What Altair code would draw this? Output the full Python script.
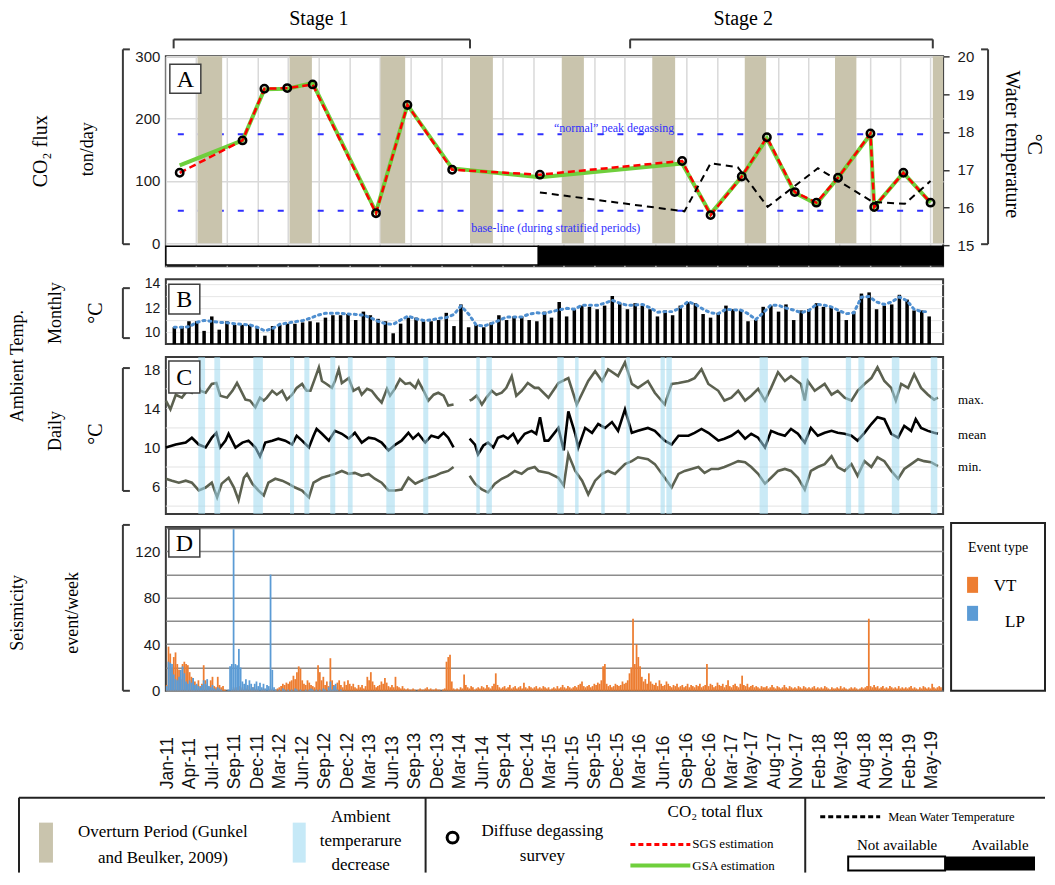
import altair as alt
import pandas as pd
from datetime import datetime

# ---------------- data ----------------
SURVEY_DATES = ["2011-02-25", "2011-11-02", "2012-01-28", "2012-04-28", "2012-08-07",
                "2013-04-16", "2013-08-19", "2014-02-13", "2015-01-28", "2016-08-16",
                "2016-12-07", "2017-04-10", "2017-07-19", "2017-11-07", "2018-02-01",
                "2018-04-28", "2018-09-04", "2018-09-19", "2019-01-13", "2019-05-01"]
SGS = [113, 165, 248, 249, 255, 48, 222, 118, 110, 132, 45, 107, 170, 82, 65, 105, 176, 58, 113, 65]
GSA = [125, 165, 247, 248, 257, 50, 222, 120, 106, 128, 47, 107, 168, 81, 63, 105, 175, 58, 113, 65]

WT_DATES = ["2015-01-28", "2016-08-25", "2016-12-07", "2017-03-25", "2017-07-22",
            "2018-02-07", "2018-09-13", "2019-01-19", "2019-05-01"]
WT = [16.40, 15.90, 17.17, 17.07, 16.02, 17.04, 16.15, 16.10, 16.70]

OVERTURN_START = ["2011-05-07", "2012-05-07", "2013-05-04", "2014-04-25", "2015-04-25",
                  "2016-04-19", "2017-04-22", "2018-04-16", "2019-05-10"]
OVERTURN_END = ["2011-08-13", "2012-08-04", "2013-08-10", "2014-07-25", "2015-07-22",
                "2016-07-19", "2017-07-16", "2018-07-10", "2019-06-20"]

COOL_START = ["2011-05-10", "2011-07-13", "2011-12-15", "2012-05-09", "2012-07-05", "2012-10-16",
              "2012-12-25", "2013-05-27", "2013-10-21", "2014-05-20", "2014-06-29", "2015-04-07",
              "2015-06-17", "2015-09-29", "2016-01-07", "2016-05-22", "2016-06-14", "2017-06-20",
              "2017-12-03", "2018-05-29", "2018-07-18", "2018-11-28", "2019-05-02"]
COOL_END = ["2011-06-06", "2011-08-05", "2012-01-22", "2012-05-25", "2012-07-25", "2012-11-05",
            "2013-01-13", "2013-06-30", "2013-11-10", "2014-06-03", "2014-07-21", "2015-05-03",
            "2015-07-01", "2015-10-13", "2016-01-21", "2016-06-08", "2016-07-06", "2017-07-23",
            "2018-01-01", "2018-06-19", "2018-08-11", "2018-12-28", "2019-05-28"]

STAGE_NAMES = ["Stage 1", "Stage 2"]
STAGE_START = ["2011-02-01", "2016-01-22"]
STAGE_END = ["2014-04-25", "2019-05-10"]
STAGE_LABEL_AT = ["2012-09-01", "2017-04-16"]

AVAIL_START = ["2011-01-01", "2015-01-22"]
AVAIL_END = ["2015-01-22", "2019-06-20"]
AVAIL_FILL = ["white", "black"]

REF_LEVELS = [175, 52]
REF_TEXT = ["\u201cnormal\u201d peak degassing", "base-line (during stratified periods)"]
REF_TEXT_AT = ["2015-11-19", "2015-04-01"]
REF_TEXT_V = [185, 25]

# monthly ambient temperature (Jan 2011 ... May 2019)
MONTHLY_T = [10.4, 10.5, 10.9, 10.9, 10.1, 11.3, 10.2, 10.9, 10.6, 10.6,
             10.6, 10.4, 9.7, 10.5, 10.6, 10.7, 10.7, 10.8, 10.9, 10.8,
             11.2, 11.4, 11.4, 11.5, 11.0, 11.7, 11.4, 11.1, 10.9, 9.9,
             10.7, 11.2, 11.2, 10.9, 10.9, 11.0, 11.6, 10.5, 12.3, 10.4,
             10.6, 10.4, 10.8, 11.4, 11.0, 11.3, 11.3, 11.0,
             10.9, 11.7, 11.2, 12.5, 11.3, 11.9, 12.2, 12.1, 11.9, 12.2,
             13.0, 12.4, 11.9, 12.4, 12.2, 11.9, 11.3, 11.8, 11.4, 12.2,
             12.5, 12.4, 11.5, 11.2, 11.6, 12.2, 11.9, 11.8, 10.9, 11.0,
             12.1, 12.2, 11.7, 12.3, 11.0, 11.8, 11.9, 12.4, 12.1, 12.1,
             11.7, 11.0, 11.7, 13.2, 13.3, 11.9, 12.2, 12.3, 13.1, 12.7,
             11.8, 11.8, 11.3]
MONTHLY_AVG = [10.4, 10.4, 10.45, 10.8, 10.97, 10.9, 10.8, 10.78, 10.7, 10.64,
               10.6, 10.4, 10.1, 10.3, 10.65, 10.75, 10.86, 10.95, 11.15, 11.4,
               11.56, 11.56, 11.56, 11.5, 11.47, 11.4, 11.2, 10.9, 10.7, 10.64,
               11.0, 11.33, 11.1, 10.97, 11.0, 11.15, 11.2, 11.47, 12.17, 11.5,
               10.6, 10.5, 10.7, 10.97, 11.25, 11.25, 11.25, 11.5, 11.6, 11.55,
               11.7, 11.85, 11.97, 11.9, 12.22, 12.22, 12.22, 12.4, 12.64, 12.4,
               12.22, 12.25, 12.3, 12.03, 11.65, 11.7, 11.7, 12.03, 12.53, 12.3,
               11.9, 11.6, 11.53, 11.9, 11.85, 11.83, 11.53, 11.05, 11.6, 12.25,
               12.22, 12.0, 11.83, 11.61, 11.8, 12.3, 12.25, 12.1, 11.8, 11.53,
               11.6, 12.9, 12.95, 12.5, 12.3, 12.5, 12.92, 12.6, 11.9, 11.7,
               11.7]

# daily ambient temperature, read at months since Jan 2011
MAX_T = [0.0, 0.6, 1.3, 2.1, 2.8, 3.4, 4.1, 4.5, 5.2, 6.0, 6.6, 7.1, 8.0, 8.7, 9.3, 9.7, 10.4, 11.0, 11.7, 12.3,
         12.8, 13.2, 13.9, 14.5, 15.2, 15.8, 16.5, 17.1, 17.8, 18.4, 18.9, 19.5, 20.0, 20.4, 21.0, 21.7, 22.1, 22.6, 23.0, 23.9,
         24.5, 25.2, 25.6, 26.3, 26.9, 27.6, 28.2, 28.9, 29.3, 30.0, 30.6, 31.3, 31.9, 32.6, 33.0, 33.7, 34.3, 35.0, 35.6, 36.3,
         36.9, 37.6,
         39.7, 40.0, 40.6, 41.3, 41.9, 42.6, 43.2, 43.9, 44.5, 45.2, 45.8, 46.5, 47.3, 48.2,
         48.7, 50.0, 51.3, 52.6, 53.7, 55.2, 56.1, 57.0, 57.8, 59.1, 60.0, 60.9, 61.7, 63.0, 63.9, 65.2, 66.1, 67.0, 68.3, 69.1,
         70.0, 70.9, 72.2, 73.0, 73.9, 74.8, 75.7, 76.5, 77.4, 78.3, 79.1, 80.0, 80.9, 81.7, 83.0, 83.5, 83.9, 84.8, 86.1, 87.0,
         87.8, 88.7, 89.6, 90.4, 91.3, 92.2, 93.0, 93.9, 94.8, 95.4, 96.1, 97.0, 97.8, 98.7, 99.6, 100.4, 100.9]
MAX_V = [14.8, 13.9, 15.4, 15.1, 15.8, 15.6, 16.6, 15.8, 15.6, 16.5, 16.6, 15.3, 15.1, 15.8, 16.6, 16.0, 14.9, 14.8, 14.1, 15.1,
         14.8, 15.1, 15.8, 15.4, 15.8, 14.9, 15.4, 16.1, 16.5, 15.8, 15.8, 17.1, 18.2, 16.8, 16.5, 16.1, 16.8, 18.0, 16.6, 17.1,
         15.8, 16.1, 15.4, 16.0, 15.8, 15.1, 14.6, 16.0, 15.3, 16.1, 17.0, 16.5, 16.6, 16.1, 16.8, 15.8, 14.8, 15.4, 15.6, 15.3,
         14.3, 14.4,
         14.8, 14.9, 15.3, 14.4, 15.1, 15.8, 15.4, 15.6, 16.1, 17.3, 15.3, 15.8, 16.6, 16.1,
         16.1, 15.1, 16.6, 17.1, 14.4, 16.8, 17.8, 16.8, 18.0, 17.3, 18.7, 16.5, 16.1, 16.8, 15.6, 14.4, 16.5, 16.6, 16.8, 17.1,
         18.0, 16.5, 15.8, 14.8, 15.1, 15.8, 14.8, 15.3, 16.0, 14.8, 16.1, 17.7, 16.8, 17.3, 16.5, 14.8, 16.8, 15.8, 16.5, 15.4,
         15.8, 15.1, 14.8, 15.8, 16.5, 17.1, 18.2, 16.8, 16.1, 14.8, 16.5, 16.1, 17.5, 16.1, 15.4, 14.9, 15.1]
MEAN_T = [0.0, 1.3, 2.6, 3.4, 4.3, 5.2, 6.0, 6.6, 7.1, 7.8, 8.2, 9.1, 10.0, 10.8, 11.7, 12.3, 13.0, 13.9, 14.7, 15.6,
          16.5, 17.1, 17.8, 18.7, 19.3, 19.7, 20.4, 21.3, 22.1, 23.0, 23.9, 24.7, 25.6, 26.5, 27.3, 28.2, 29.1, 30.0, 30.8, 31.7,
          32.3, 33.0, 33.9, 34.7, 35.6, 36.3, 36.9, 37.6,
          39.7, 40.4, 40.8, 41.5, 42.1, 42.8, 43.4, 44.1, 44.7, 45.4, 46.0, 46.9, 47.8, 48.4, 48.9, 49.5,
          50.0, 51.3, 52.0, 52.6, 53.5, 53.9, 54.8, 55.7, 56.5, 57.4, 58.3, 59.1, 60.0, 60.9, 61.7, 63.0, 63.9, 65.2, 66.1, 67.0,
          68.3, 69.1, 70.0, 70.9, 72.2, 73.0, 73.9, 74.8, 75.7, 76.5, 77.4, 78.3, 79.1, 80.0, 80.9, 81.7, 82.6, 83.5, 84.3, 85.2,
          86.1, 87.0, 87.8, 88.7, 89.6, 90.4, 91.3, 92.2, 93.0, 93.9, 94.8, 95.7, 96.5, 97.4, 98.0, 98.7, 99.6, 100.4, 100.9]
MEAN_V = [10.0, 10.3, 10.5, 11.0, 10.3, 10.0, 11.0, 11.5, 10.0, 10.7, 11.4, 10.0, 10.5, 10.7, 10.0, 9.1, 10.5, 10.7, 10.9, 10.7,
          10.3, 11.2, 10.7, 10.0, 11.2, 11.9, 11.4, 10.7, 11.7, 11.4, 10.9, 11.5, 10.5, 11.0, 10.9, 10.5, 9.7, 10.3, 10.7, 11.5,
          10.9, 11.4, 10.5, 11.2, 11.0, 11.5, 11.0, 10.0,
          10.9, 10.3, 9.3, 10.2, 10.5, 10.0, 11.0, 11.2, 10.9, 11.4, 10.5, 11.4, 11.7, 11.4, 13.1, 10.7,
          10.7, 12.0, 9.7, 13.7, 11.4, 10.0, 12.0, 11.5, 12.4, 12.0, 12.6, 11.7, 13.9, 11.5, 11.7, 12.0, 11.7, 10.7, 10.3, 11.2,
          11.2, 11.5, 11.9, 11.5, 10.7, 10.9, 11.2, 11.7, 10.9, 11.4, 11.0, 10.0, 11.7, 11.4, 11.2, 11.9, 11.4, 10.5, 12.0, 11.2,
          11.5, 11.7, 11.5, 11.4, 11.2, 10.7, 11.5, 12.4, 13.1, 12.9, 11.4, 11.0, 12.2, 11.7, 12.9, 12.0, 11.7, 11.5, 11.4]
MIN_T = [0.0, 0.8, 1.7, 2.6, 3.4, 4.3, 5.2, 6.0, 6.7, 7.3, 8.2, 8.9, 9.5, 10.2, 10.6, 11.3, 12.1, 12.8, 13.4, 14.3,
         15.2, 16.0, 16.9, 17.8, 18.7, 19.3, 20.4, 21.3, 22.1, 23.0, 23.9, 24.7, 25.6, 26.5, 27.3, 28.2, 29.1, 30.0, 30.8, 31.7,
         32.6, 33.4, 34.3, 35.2, 36.0, 36.9, 37.6,
         39.7, 40.4, 41.3, 42.1, 43.0, 43.9, 44.7, 45.6, 46.5, 47.3, 48.2,
         48.7, 50.0, 51.3, 52.0, 52.6, 53.5, 54.4, 55.2, 56.1, 57.0, 57.8, 58.7, 60.0, 60.9, 61.7, 63.0, 63.9, 65.2, 66.1, 67.0,
         67.8, 68.7, 69.6, 70.4, 71.3, 72.2, 73.0, 73.9, 74.8, 75.7, 76.5, 77.4, 78.3, 79.1, 80.0, 80.9, 81.7, 82.6, 83.5, 84.3,
         85.2, 86.1, 87.0, 87.8, 88.7, 89.6, 90.4, 91.3, 92.2, 93.0, 93.9, 94.8, 95.7, 96.5, 97.4, 98.3, 99.1, 100.0, 100.9]
MIN_V = [6.8, 6.6, 6.4, 6.6, 6.4, 5.6, 5.9, 6.4, 4.9, 6.3, 6.9, 5.9, 4.6, 6.9, 7.3, 6.3, 5.6, 5.1, 6.4, 6.8,
         6.6, 6.3, 5.9, 5.6, 4.9, 6.4, 6.9, 7.1, 7.3, 7.6, 7.3, 7.4, 7.1, 7.3, 6.8, 6.4, 5.6, 5.6, 5.7, 6.9,
         6.3, 6.6, 6.9, 7.1, 7.4, 7.6, 8.0,
         7.1, 6.3, 5.7, 5.4, 6.3, 6.8, 7.1, 7.6, 7.3, 7.8, 8.0,
         7.6, 7.4, 6.9, 6.1, 9.3, 7.6, 6.6, 5.2, 6.6, 7.3, 7.6, 7.3, 8.3, 8.6, 9.0, 8.8, 8.3, 6.9, 5.9, 7.3,
         7.6, 7.8, 8.0, 7.4, 7.8, 7.8, 8.0, 8.3, 8.6, 8.5, 8.0, 7.3, 6.3, 6.9, 7.6, 7.8, 7.6, 6.9, 5.7, 7.6,
         8.0, 8.3, 9.1, 8.0, 7.6, 8.3, 7.1, 8.6, 8.0, 9.0, 8.6, 7.6, 6.8, 7.8, 8.3, 8.8, 8.6, 8.5, 8.1]
DATA_GAP_AFTER = 38.5  # months: no daily record between Mar and May 2014

# weekly seismicity (events/week), from the week of 1 Jan 2011
VT = [5, 38, 32, 20, 29, 33, 23, 18, 10, 23, 25, 23, 22, 16, 12, 11, 8, 5, 9, 4,
      6, 22, 9, 5, 3, 9, 12, 4, 3, 12, 5, 3, 4, 1, 0, 0, 0, 1, 3, 2,
      3, 4, 2, 3, 1, 2, 4, 1, 2, 3, 1, 2, 1, 0, 1, 2, 1, 0, 1, 2,
      1, 0, 1, 2, 3, 4, 6, 5, 7, 6, 8, 9, 13, 10, 16, 21, 19, 9, 6, 5,
      9, 7, 5, 4, 3, 8, 22, 16, 9, 12, 5, 8, 4, 28, 9, 5, 3, 7, 9, 5,
      3, 8, 5, 9, 6, 4, 6, 3, 2, 5, 3, 5, 2, 4, 12, 9, 16, 8, 5, 3,
      4, 5, 8, 6, 11, 7, 4, 3, 5, 3, 12, 4, 3, 2, 4, 2, 1, 2, 1, 1,
      2, 1, 0, 1, 2, 1, 1, 2, 3, 1, 2, 1, 1, 2, 1, 1, 0, 1, 2, 25,
      29, 31, 8, 2, 1, 2, 1, 3, 2, 14, 5, 3, 2, 4, 3, 1, 2, 3, 2, 4,
      3, 2, 5, 3, 2, 4, 6, 15, 5, 3, 2, 3, 4, 2, 3, 5, 2, 3, 4, 2,
      3, 4, 2, 7, 3, 2, 4, 3, 2, 3, 4, 2, 3, 2, 4, 3, 2, 3, 1, 2,
      3, 2, 4, 2, 3, 5, 3, 2, 4, 3, 2, 3, 4, 3, 5, 6, 8, 4, 3, 4,
      5, 3, 4, 6, 5, 7, 6, 9, 21, 23, 6, 4, 5, 3, 4, 6, 5, 4, 5, 8,
      6, 7, 9, 15, 20, 62, 23, 40, 29, 21, 12, 8, 10, 6, 15, 8, 6, 5, 7, 4,
      9, 6, 4, 5, 8, 6, 4, 3, 5, 4, 6, 3, 4, 5, 3, 4, 6, 3, 5, 4,
      3, 5, 4, 6, 3, 4, 5, 23, 4, 6, 5, 3, 4, 7, 5, 4, 6, 3, 5, 9,
      4, 3, 5, 6, 4, 3, 6, 13, 5, 4, 6, 3, 4, 5, 3, 4, 3, 2, 4, 3,
      3, 4, 2, 3, 5, 3, 2, 4, 3, 2, 3, 5, 3, 2, 4, 3, 2, 3, 2, 4,
      3, 2, 4, 3, 2, 3, 2, 3, 4, 2, 3, 2, 3, 2, 4, 3, 2, 1, 3, 2,
      2, 3, 2, 4, 2, 3, 2, 1, 2, 3, 2, 3, 2, 1, 2, 3, 2, 3, 4, 62,
      4, 3, 5, 3, 4, 2, 3, 4, 2, 3, 2, 4, 3, 2, 3, 2, 4, 2, 3, 2,
      3, 2, 3, 4, 2, 3, 2, 1, 3, 2, 4, 3, 2, 3, 2, 6, 3, 2, 3, 4, 3]
LP = [4, 25, 24, 23, 14, 10, 9, 12, 18, 21, 15, 8, 6, 9, 7, 11, 5, 6, 4, 3,
      5, 9, 6, 10, 4, 3, 5, 2, 1, 3, 2, 1, 0, 0, 0, 1, 21, 23, 139, 23,
      22, 36, 20, 8, 6, 10, 5, 9, 6, 3, 6, 8, 4, 7, 3, 6, 2, 5, 4, 100,
      18, 3, 1, 0, 1, 0, 2, 1, 0, 1, 0, 1, 0, 2, 1, 0, 1, 0, 0, 1,
      0, 1, 2, 1, 0, 1, 0, 1, 0, 2, 1, 0, 3, 8, 1, 4, 6, 1, 0, 1]

X_LABELS = ["Jan-11", "Apr-11", "Jul-11", "Sep-11", "Dec-11", "Mar-12", "Jun-12", "Sep-12", "Dec-12",
            "Mar-13", "Jun-13", "Sep-13", "Dec-13", "Mar-14", "Jun-14", "Sep-14", "Dec-14", "Mar-15",
            "Jun-15", "Sep-15", "Dec-15", "Mar-16", "Jun-16", "Sep-16", "Dec-16", "Mar-17", "May-17",
            "Aug-17", "Nov-17", "Feb-18", "May-18", "Aug-18", "Nov-18", "Feb-19", "May-19"]

# ---------------- style / layout ----------------
W = 778
H_A, H_B, H_C, H_D = 210, 65, 157, 164
SERIF = "Liberation Serif"
SANS = "Liberation Sans"
DARK = "#3a3a3a"
TAN = "#c9c4ad"
COOL = "#9fd8ef"
GREEN = "#6fcf3c"
REFBLUE = "#2f2fff"
ORANGE = "#ed7d31"
LPBLUE = "#5b9bd5"
GRAYLINE = "#5c6150"

XS = alt.Scale(domain=[alt.DateTime(year=2011, month=1, date=1),
                       alt.DateTime(year=2019, month=6, date=20)])
BASE = pd.Timestamp("2011-01-01")


def mdate(m):
    return BASE + pd.Timedelta(days=m * 30.44)


ONE = pd.DataFrame({"k": [0]})


def ptext(txt, x, y, size=18, angle=0, font=SERIF, color="black", align="center", baseline="middle"):
    return alt.Chart(ONE).mark_text(text=txt, font=font, fontSize=size, angle=angle, color=color,
                                    align=align, baseline=baseline).encode(x=alt.value(x), y=alt.value(y))


def prule(x, y, x2=None, y2=None, color=DARK, width=2.0, dash=None):
    kw = dict(color=color, strokeWidth=width)
    if dash:
        kw["strokeDash"] = dash
    enc = dict(x=alt.value(x), y=alt.value(y))
    if x2 is not None:
        enc["x2"] = alt.value(x2)
    if y2 is not None:
        enc["y2"] = alt.value(y2)
    return alt.Chart(ONE).mark_rule(**kw).encode(**enc)


def prect(x, x2, y, y2, fill="white", stroke=None, sw=1.5):
    kw = dict(fill=fill)
    if stroke:
        kw.update(stroke=stroke, strokeWidth=sw)
    return alt.Chart(ONE).mark_rect(**kw).encode(x=alt.value(x), x2=alt.value(x2),
                                                 y=alt.value(y), y2=alt.value(y2))


def bracket_left(y0, y1, x=-43):
    return [prule(x, y0, y2=y1), prule(x, y0, x2=x + 7), prule(x, y1, x2=x + 7)]


def letter(ch, x0, y0, w=31, h=29):
    return [prect(x0, x0 + w, y0, y0 + h, fill="white", stroke="#404040", sw=1.5),
            ptext(ch, x0 + w / 2, y0 + h / 2 + 1, size=24)]


# ---------------- panel A ----------------
GRID_DATES = [alt.DateTime(year=2011 + i // 3, month=1 + 4 * (i % 3), date=1) for i in range(26)]
AX_A_X = alt.Axis(values=GRID_DATES, grid=True, gridColor="#d9d9d9", gridWidth=1.5,
                  labels=False, ticks=False, domain=False, title=None)
AX_A_Y = alt.Axis(values=[0, 50, 100, 150, 200, 250, 300], grid=True, gridColor="#d9d9d9", gridWidth=1.5,
                  ticks=False, domain=False, title=None, labelPadding=6, labelFontSize=15, labelFlush=False)
YS_A = alt.Scale(domain=[-37, 300], nice=False, zero=False)


def xA(f):
    return alt.X(f, type="temporal", scale=XS, axis=AX_A_X)


def yA(f):
    return alt.Y(f, type="quantitative", scale=YS_A, axis=AX_A_Y)


overturn = pd.DataFrame({"start": pd.to_datetime(OVERTURN_START), "end": pd.to_datetime(OVERTURN_END)})
avail = pd.DataFrame({"start": pd.to_datetime(AVAIL_START), "end": pd.to_datetime(AVAIL_END), "fill": AVAIL_FILL})
refl = pd.DataFrame({"v": REF_LEVELS})
reft = pd.DataFrame({"date": pd.to_datetime(REF_TEXT_AT), "v": REF_TEXT_V, "t": REF_TEXT})
surv = pd.DataFrame({"date": pd.to_datetime(SURVEY_DATES), "sgs": SGS, "gsa": GSA})
wt = pd.DataFrame({"date": pd.to_datetime(WT_DATES), "wt": WT})
stages = pd.DataFrame({"name": STAGE_NAMES, "start": pd.to_datetime(STAGE_START),
                       "end": pd.to_datetime(STAGE_END), "mid": pd.to_datetime(STAGE_LABEL_AT)})

a_left = [
    alt.Chart(refl).mark_rule(color=REFBLUE, strokeWidth=2, strokeDash=[6, 14]).encode(y=yA("v")),
    alt.Chart(overturn).mark_rect(color=TAN).encode(x=xA("start"), x2="end:T", y=alt.datum(0), y2=alt.datum(300)),
    alt.Chart(avail).mark_rect(stroke="black", strokeWidth=1.5).encode(
        x=xA("start"), x2="end:T", y=alt.datum(-5), y2=alt.datum(-35), fill=alt.Fill("fill:N", scale=None)),
    alt.Chart(reft).mark_text(font=SERIF, fontSize=12, color=REFBLUE).encode(x=xA("date"), y=yA("v"), text="t:N"),
    alt.Chart(surv).mark_line(color=GREEN, strokeWidth=4).encode(x=xA("date"), y=yA("gsa")),
    alt.Chart(surv).mark_line(color="red", strokeWidth=2.5, strokeDash=[7, 4]).encode(x=xA("date"), y=yA("sgs")),
    alt.Chart(surv).mark_point(shape="circle", size=55, filled=False, color="black", strokeWidth=2.5,
                               opacity=1).encode(x=xA("date"), y=yA("sgs")),
    alt.Chart(stages).mark_rule(color=DARK, strokeWidth=2).encode(x=xA("start"), x2="end:T", y=alt.value(-17)),
    alt.Chart(stages).mark_rule(color=DARK, strokeWidth=2).encode(x=xA("start"), y=alt.value(-17), y2=alt.value(-8)),
    alt.Chart(stages).mark_rule(color=DARK, strokeWidth=2).encode(x=xA("end"), y=alt.value(-17), y2=alt.value(-8)),
    alt.Chart(stages).mark_text(font=SERIF, fontSize=20).encode(x=xA("mid"), y=alt.value(-37), text="name:N"),
    *letter("A", 4, 8),
    *bracket_left(-7, 188),
    prule(823, -7, y2=188), prule(816, -7, x2=823), prule(816, 188, x2=823),
    ptext("CO\u2082  flux", -125, 95, size=20, angle=270),
    ptext("ton/day", -78, 93, size=18, angle=270),
    ptext("Water temperature", 847, 88, size=20, angle=90),
    ptext("\u00b0C", 869, 88, size=20, angle=90),
]
a_right = alt.Chart(wt).mark_line(color="black", strokeWidth=2, strokeDash=[7, 5]).encode(
    x=xA("date"),
    y=alt.Y("wt:Q", scale=alt.Scale(domain=[14.45, 20], nice=False, zero=False),
            axis=alt.Axis(orient="right", values=[15, 16, 17, 18, 19, 20], grid=False, ticks=True, tickSize=6,
                          tickColor=DARK, tickWidth=1.5, domain=False, labelPadding=8, title=None,
                          labelFontSize=15, labelFlush=False)))
panelA = alt.layer(alt.layer(*a_left), a_right).resolve_scale(y="independent").properties(width=W, height=H_A)

# ---------------- panel B ----------------
monthly = pd.DataFrame({"date": [pd.Timestamp(2011 + i // 12, i % 12 + 1, 15) for i in range(len(MONTHLY_T))],
                        "t": MONTHLY_T, "avg": MONTHLY_AVG})
YS_B = alt.Scale(domain=[9, 14.4], nice=False, zero=False)
AX_B = alt.Axis(values=[10, 11, 12, 13, 14], labelExpr="datum.value % 2 == 0 ? datum.label : ''",
                grid=True, gridColor="#e6e6e6", ticks=False, domain=False, title=None, labelFontSize=14,
                labelFlush=False, labelPadding=6)
XB = alt.X("date:T", scale=XS, axis=None)
panelB = alt.layer(
    alt.Chart(monthly).mark_bar(color="black", width=3.5).encode(x=XB, y=alt.Y("t:Q", scale=YS_B, axis=AX_B),
                                                                 y2=alt.datum(9)),
    alt.Chart(monthly).mark_line(color="#4f8fd0", strokeDash=[2, 4], strokeWidth=3, strokeCap="round").encode(
        x=XB, y=alt.Y("avg:Q", scale=YS_B, axis=AX_B)),
    *letter("B", 3, 5, h=30),
    *bracket_left(9, 59),
    ptext("Monthly", -110, 34, size=18, angle=270),
    ptext("\u00b0C", -70, 34, size=20, angle=270),
).properties(width=W, height=H_B)

# ---------------- panel C ----------------
cool = pd.DataFrame({"start": pd.to_datetime(COOL_START), "end": pd.to_datetime(COOL_END)})


def daily(ts, vs):
    return pd.DataFrame({"date": [mdate(t) for t in ts], "v": vs, "seg": [int(t > DATA_GAP_AFTER) for t in ts]})


YS_C = alt.Scale(domain=[3.2, 19.25], nice=False, zero=False)
AX_C = alt.Axis(values=[6, 10, 14, 18], grid=True, gridColor="#e3e3e3", ticks=False, domain=False, title=None,
                labelFontSize=15, labelFlush=False, labelPadding=6)
XC = alt.X("date:T", scale=XS, axis=None)
C_MINOR_GRID = [4, 8, 12, 16]


def cline(df, color):
    return alt.Chart(df).mark_line(color=color, strokeWidth=2.6).encode(
        x=XC, y=alt.Y("v:Q", scale=YS_C, axis=AX_C), detail="seg:N")


panelC = alt.layer(
    alt.Chart(pd.DataFrame({"v": C_MINOR_GRID})).mark_rule(color="#e3e3e3", strokeWidth=1).encode(
        y=alt.Y("v:Q", scale=YS_C, axis=AX_C)),
    cline(daily(MAX_T, MAX_V), GRAYLINE),
    cline(daily(MIN_T, MIN_V), GRAYLINE),
    cline(daily(MEAN_T, MEAN_V), "black"),
    alt.Chart(cool).mark_rect(color=COOL, opacity=0.55).encode(
        x=alt.X("start:T", scale=XS, axis=None), x2="end:T", y=alt.datum(3.2), y2=alt.datum(19.25)),
    *letter("C", 3, 4, h=32),
    *bracket_left(11, 134),
    ptext("max.", W + 15, 43, size=13, align="left"),
    ptext("mean", W + 15, 78, size=13, align="left"),
    ptext("min.", W + 15, 110, size=13, align="left"),
    ptext("Ambient Temp.", -148, 9, size=18, angle=270),
    ptext("Daily", -110, 74, size=18, angle=270),
    ptext("\u00b0C", -70, 77, size=20, angle=270),
).properties(width=W, height=H_C)

# ---------------- panel D ----------------
n = len(VT)
lp_full = LP + [0] * (n - len(LP))
weekly = pd.DataFrame({"start": [BASE + pd.Timedelta(days=7 * k) for k in range(n)],
                       "end": [BASE + pd.Timedelta(days=7 * k + 7) for k in range(n)],
                       "vt": VT, "lp": lp_full})

lab_start, lab_end = pd.Timestamp("2011-01-08"), pd.Timestamp("2019-05-06")
lab_step = (lab_end - lab_start) / (len(X_LABELS) - 1)
LABEL_DATES = []
for k, lab in enumerate(X_LABELS):
    ideal = lab_start + lab_step * k
    ms = pd.Timestamp(datetime.strptime(lab, "%b-%y"))
    me = ms + pd.offsets.MonthEnd(0)
    d = min(max(ideal, ms), me)
    LABEL_DATES.append(alt.DateTime(year=int(d.year), month=int(d.month), date=int(d.day)))

AX_D_X = alt.Axis(values=LABEL_DATES, format="%b-%y", labelAngle=270, labelAlign="left", labelBaseline="middle",
                  labelFontSize=17.5, ticks=False, domain=False, grid=False, title=None, labelPadding=98,
                  labelOverlap=False, labelFlush=False, labelFont=SANS, labelColor="#111")
YS_D = alt.Scale(domain=[0, 141], nice=False)
AX_D_Y = alt.Axis(values=list(range(0, 141, 20)), labelExpr="datum.value % 40 == 0 ? datum.label : ''",
                  grid=True, gridColor="#8c8c8c", gridWidth=1.5, ticks=False, domain=False, title=None,
                  labelFontSize=15, labelFlush=False, labelPadding=6)
XD = alt.X("start:T", scale=XS, axis=AX_D_X)

legend_row = [
    prule(-147, 271, x2=880, color="#222", width=2),
    prule(-147, 271, y2=346, color="#222", width=2),
    prule(260, 271, y2=346, color="#222", width=2),
    prule(640, 271, y2=346, color="#222", width=2),
    prect(-127, -113, 296, 336, fill="#c9c4ad"),
    ptext("Overturn Period (Gunkel", -3, 305, size=17),
    ptext("and Beulker, 2009)", -3, 331, size=17),
    prect(127, 140, 296, 336, fill="#c6e9f7"),
    ptext("Ambient", 195, 290, size=17),
    ptext("temperarure", 195, 314, size=17),
    ptext("decrease", 195, 338, size=17),
    alt.Chart(ONE).mark_point(shape="circle", size=120, filled=False, color="black", strokeWidth=3,
                              opacity=1).encode(x=alt.value(287), y=alt.value(311)),
    ptext("Diffuse degassing", 377, 304, size=17),
    ptext("survey", 377, 329, size=17),
    ptext("CO\u2082 total flux", 550, 285, size=17),
    prule(465, 318, x2=525, color="red", width=3, dash=[5, 3]),
    ptext("SGS estimation", 527, 317, size=13, align="left"),
    prule(465, 339, x2=525, color=GREEN, width=4),
    ptext("GSA estimation", 527, 339, size=13, align="left"),
    prule(655, 290, x2=715, color="black", width=3, dash=[5, 3]),
    ptext("Mean Water Temperature", 723, 290, size=12.5, align="left"),
    ptext("Not available", 732, 318, size=15),
    ptext("Available", 835, 318, size=15),
    prect(683, 780, 330, 344, fill="white", stroke="black", sw=2),
    prect(780, 870, 330, 344, fill="black"),
]
event_box = [
    prect(786, 880, -4, 164, fill="white", stroke="#222", sw=2),
    ptext("Event type", 833, 21, size=14),
    prect(802, 813, 50, 66, fill=ORANGE),
    ptext("VT", 840, 59, size=17),
    prect(802, 813, 79, 94, fill=LPBLUE),
    ptext("LP", 850, 95, size=17),
]
panelD = alt.layer(
    alt.Chart(weekly).mark_rect(color=ORANGE).encode(x=XD, x2="end:T", y=alt.Y("vt:Q", scale=YS_D, axis=AX_D_Y),
                                                     y2=alt.datum(0)),
    alt.Chart(weekly).mark_rect(color=LPBLUE).encode(x=XD, x2="end:T", y=alt.Y("lp:Q", scale=YS_D, axis=AX_D_Y),
                                                     y2=alt.datum(0)),
    *letter("D", 3, 2, h=28),
    *bracket_left(-2, 164),
    ptext("Seismicity", -148, 86, size=18, angle=270),
    ptext("event/week", -93, 86, size=18, angle=270),
    *event_box,
    *legend_row,
).properties(width=W, height=H_D)

chart = alt.vconcat(panelA, panelB, panelC, panelD, spacing=13, bounds="flush").properties(
    padding=0
).configure_view(stroke=DARK, strokeWidth=2).configure_axis(labelFont=SANS, labelColor="#1a1a1a")

chart.save("out.html", embed_options={"renderer": "svg", "actions": False})
